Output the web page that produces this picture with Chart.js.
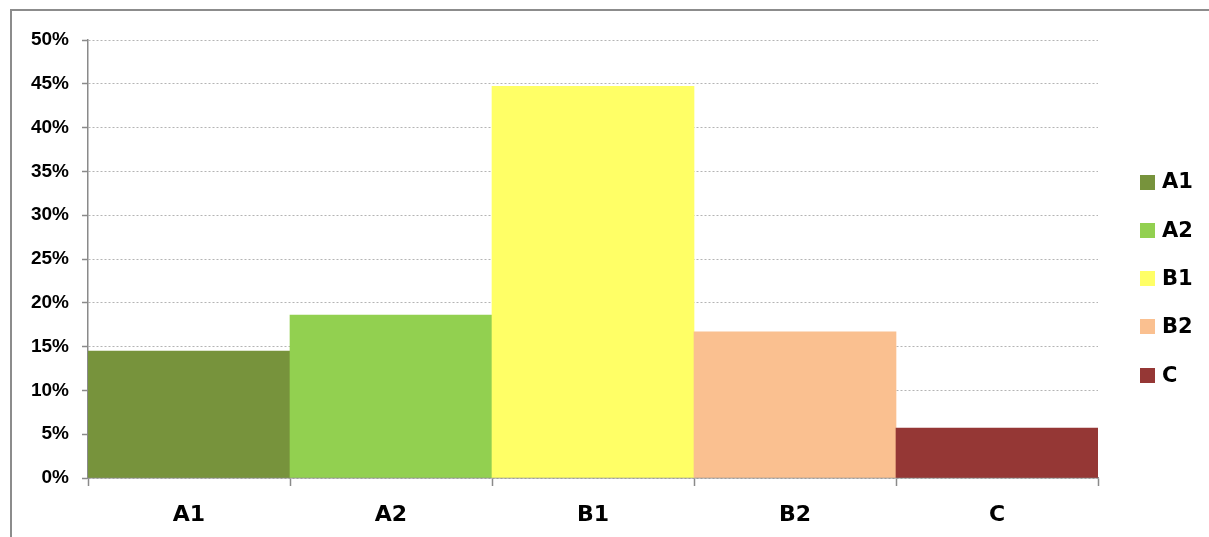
<!DOCTYPE html>
<html>
<head>
<meta charset="utf-8">
<script src="https://cdn.jsdelivr.net/npm/chart.js@4"></script>
<style>
    html, body { margin: 0; padding: 0; background: #fff; }
    #wrap { position: relative; width: 1209px; height: 537px; overflow: hidden; }
    #frame {
        position: absolute; left: 10px; top: 9px; width: 1197px; height: 540px;
        border-left: 2px solid #8c8c8c; border-top: 2px solid #8c8c8c;
    }
    #chart { position: absolute; left: 0; top: 0; }
</style>
</head>
<body>
<div id="wrap">
    <div id="frame"></div>
    <canvas id="chart" width="1209" height="537"></canvas>
</div>
<script>
// data
const categories = ['A1', 'A2', 'B1', 'B2', 'C'];
const shares = [0.145, 0.186, 0.447, 0.167, 0.057];
const barColors = ['#77933C', '#92D050', '#FFFF66', '#FAC090', '#953735'];
const yTicks = [0, 0.05, 0.1, 0.15, 0.2, 0.25, 0.3, 0.35, 0.4, 0.45, 0.5];

const FONT_Y = "'Liberation Sans', Arial, sans-serif";
const FONT_X = "'DejaVu Sans', Verdana, sans-serif";
const AXIS_GRAY = '#8a8a8a';

// legend on the right, one entry per category
const sideLegend = {
    id: 'sideLegend',
    afterDraw(chart) {
        const ctx = chart.ctx;
        ctx.save();
        ctx.font = 'bold 21px ' + FONT_X;
        ctx.textBaseline = 'middle';
        categories.forEach((c, i) => {
            const y = 182 + i * 48.3;
            ctx.fillStyle = barColors[i];
            ctx.fillRect(1140, Math.round(y - 7.5), 15, 15);
            ctx.fillStyle = '#000';
            ctx.fillText(c, 1162, y + 1);
        });
        ctx.restore();
    }
};

const ctx = document.getElementById('chart').getContext('2d');
new Chart(ctx, {
    type: 'bar',
    data: {
        labels: categories,
        datasets: [{
            data: shares,
            backgroundColor: barColors,
            borderWidth: 0,
            categoryPercentage: 1,
            barPercentage: 1
        }]
    },
    options: {
        responsive: false,
        animation: false,
        layout: { padding: { left: 0, right: 111, top: 40, bottom: 0 } },
        plugins: {
            legend: { display: false },
            tooltip: { enabled: false }
        },
        scales: {
            x: {
                offset: true,
                grid: {
                    offset: true,
                    drawOnChartArea: false,
                    drawTicks: true,
                    tickLength: 8,
                    tickColor: AXIS_GRAY,
                    tickWidth: 1.5
                },
                border: { color: AXIS_GRAY, width: 1.5 },
                ticks: {
                    color: '#000',
                    padding: 16,
                    font: { family: FONT_X, size: 22, weight: 'bold' }
                },
                afterFit(scale) { scale.height = 59; }
            },
            y: {
                min: 0,
                max: 0.5,
                afterBuildTicks(scale) { scale.ticks = yTicks.map(v => ({ value: v })); },
                grid: {
                    color: '#b4b4b4',
                    lineWidth: 1,
                    drawTicks: true,
                    tickLength: 6,
                    tickColor: AXIS_GRAY,
                    tickWidth: 1.5,
                    tickBorderDash: []
                },
                border: { color: AXIS_GRAY, width: 1.5, dash: [2, 2] },
                ticks: {
                    color: '#000',
                    padding: 13,
                    font: { family: FONT_Y, size: 19, weight: 'bold' },
                    callback: v => Math.round(v * 100) + '%'
                },
                afterFit(scale) { scale.width = 88; }
            }
        }
    },
    plugins: [sideLegend]
});
</script>
</body>
</html>
